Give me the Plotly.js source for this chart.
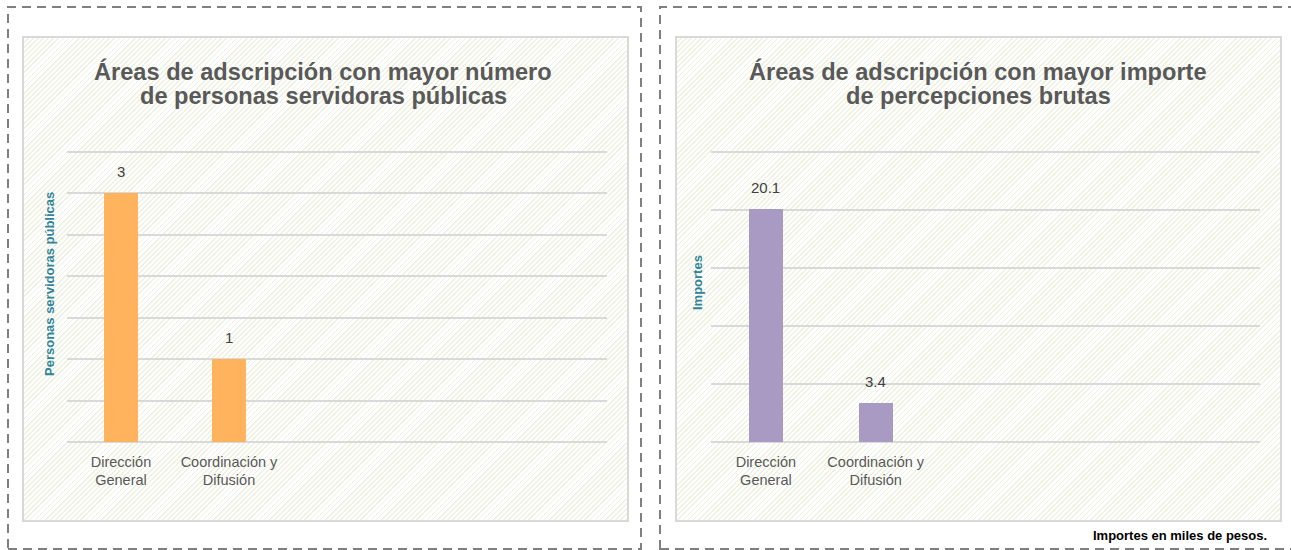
<!DOCTYPE html>
<html>
<head>
<meta charset="utf-8">
<script src="https://cdn.plot.ly/plotly-3.0.1.min.js"></script>
<style>
  html, body { margin: 0; padding: 0; background: #ffffff; }
  #wrap { position: relative; width: 1291px; height: 550px; overflow: hidden; }
  .hatch { position: absolute; box-sizing: border-box; border: 2px solid #d9d9d9;
    background: repeating-linear-gradient(135deg, #ffffff 0px, #ffffff 2.4px, #eff2e0 2.4px, #eff2e0 3.6px); }
  #chart { position: absolute; left: 0; top: 0; }
</style>
</head>
<body>
<div id="wrap">
  <div class="hatch" style="left:22px; top:36px; width:607px; height:486px;"></div>
  <div class="hatch" style="left:675px; top:36px; width:607px; height:486px;"></div>
  <div id="chart"></div>
</div>
<script>
// ---- data ----
const areas = ["Dirección<br>General", "Coordinación y<br>Difusión"];
const personas = [3, 1];
const importes = [20.1, 3.4];
const titleLeftLines = ["Áreas de adscripción con mayor número", "de personas servidoras públicas"];
const titleRightLines = ["Áreas de adscripción con mayor importe", "de percepciones brutas"];
const yTitleLeft = "Personas servidoras públicas";
const yTitleRight = "Importes";
const footnote = "Importes en miles de pesos.";

const W = 1291, H = 550;
const px = v => v / W;
const py = v => 1 - v / H;
const FONT = "Liberation Sans, Arial, sans-serif";

const traces = [
  { type: "bar", x: areas, y: personas, xaxis: "x", yaxis: "y", width: 0.31,
    marker: { color: "#ffb35c" }, hoverinfo: "skip" },
  { type: "bar", x: areas, y: importes, xaxis: "x2", yaxis: "y2", width: 0.31,
    marker: { color: "#a99ac3" }, hoverinfo: "skip" }
];

const xCommon = { type: "category", range: [-0.5, 4.5], showgrid: false, zeroline: false,
  showline: false, ticks: "", ticklabelstandoff: 9,
  tickfont: { family: FONT, size: 14.5, color: "#595959" }, fixedrange: true };
const yCommon = { showticklabels: false, ticks: "", showline: false, zeroline: true,
  zerolinecolor: "#d9d9d9", zerolinewidth: 2,
  gridcolor: "#d9d9d9", gridwidth: 2, fixedrange: true };

const annotations = [];
personas.forEach((v, i) => annotations.push({ xref: "x", yref: "y", x: areas[i], y: v,
  text: String(v), showarrow: false, yanchor: "bottom", yshift: 11,
  font: { family: FONT, size: 15, color: "#404040" } }));
importes.forEach((v, i) => annotations.push({ xref: "x2", yref: "y2", x: areas[i], y: v,
  text: v.toFixed(1), showarrow: false, yanchor: "bottom", yshift: 11,
  font: { family: FONT, size: 15, color: "#404040" } }));
const titleFont = { family: FONT, size: 23.6, color: "#595959", weight: "bold" };
titleLeftLines.forEach((t, i) => annotations.push({ xref: "paper", yref: "paper",
  x: px(323), y: py(72 + 24 * i), xanchor: "center", yanchor: "middle", text: t, showarrow: false, font: titleFont }));
titleRightLines.forEach((t, i) => annotations.push({ xref: "paper", yref: "paper",
  x: px(978), y: py(72 + 24 * i), xanchor: "center", yanchor: "middle", text: t, showarrow: false, font: titleFont }));
annotations.push(
  { xref: "paper", yref: "paper", x: px(49), y: py(284), xanchor: "center", yanchor: "middle",
    text: yTitleLeft, showarrow: false, textangle: -90,
    font: { family: FONT, size: 13, color: "#31849b", weight: "bold" } },
  { xref: "paper", yref: "paper", x: px(697), y: py(283), xanchor: "center", yanchor: "middle",
    text: yTitleRight, showarrow: false, textangle: -90,
    font: { family: FONT, size: 13, color: "#31849b", weight: "bold" } },
  { xref: "paper", yref: "paper", x: px(1269), y: py(535), xanchor: "right", yanchor: "middle",
    text: footnote, showarrow: false,
    font: { family: FONT, size: 13, color: "#000000", weight: "bold" } }
);

const dash = { color: "#808080", width: 2, dash: "9px,6px" };
const shapes = [
  { type: "rect", xref: "paper", yref: "paper", x0: px(8), x1: px(641), y0: py(549), y1: py(7), line: dash },
  { type: "rect", xref: "paper", yref: "paper", x0: px(660), x1: px(1300), y0: py(549), y1: py(7), line: dash }
];

// plot areas extend 6px above the top gridline so that it is drawn
const layout = {
  width: W, height: H, margin: { l: 0, r: 0, t: 0, b: 0 },
  paper_bgcolor: "rgba(0,0,0,0)", plot_bgcolor: "rgba(0,0,0,0)",
  showlegend: false, bargap: 0,
  xaxis: Object.assign({}, xCommon, { domain: [px(67), px(607)], anchor: "y" }),
  yaxis: Object.assign({}, yCommon, { domain: [py(442), py(146)], range: [0, 3.5 * 296 / 290], dtick: 0.5, anchor: "x" }),
  xaxis2: Object.assign({}, xCommon, { domain: [px(711), px(1260)], anchor: "y2" }),
  yaxis2: Object.assign({}, yCommon, { domain: [py(442), py(146)], range: [0, 25 * 296 / 290], dtick: 5, anchor: "x2" }),
  annotations, shapes
};

Plotly.newPlot("chart", traces, layout, { displayModeBar: false, staticPlot: true });
</script>
</body>
</html>
